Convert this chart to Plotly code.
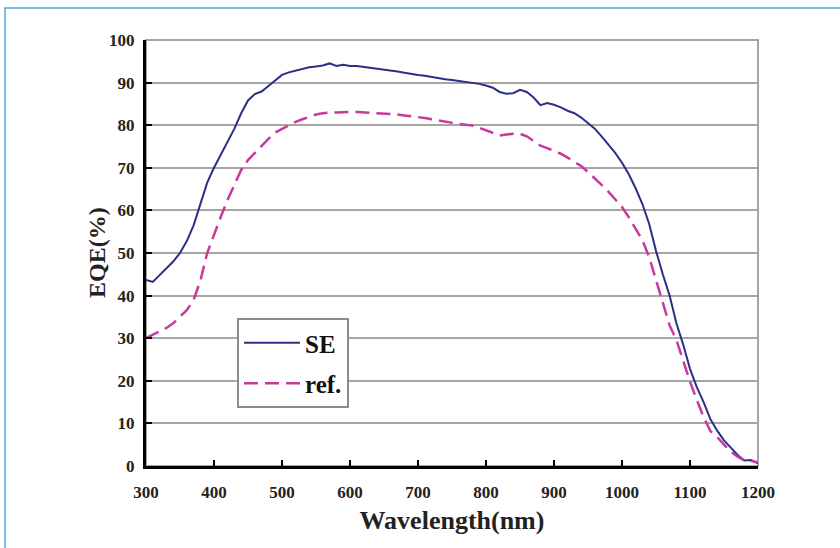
import plotly.graph_objects as go

wavelength = list(range(300, 1201, 10))

se_eqe = [43.7, 43.2, 44.8, 46.3, 48.0, 50.0, 52.8, 56.5, 61.5, 66.5,
          70.0, 73.0, 76.3, 79.2, 82.8, 85.8, 87.3, 87.9, 89.2, 90.6,
          91.8, 92.4, 92.8, 93.3, 93.6, 93.8, 94.0, 94.5, 93.9, 94.2,
          93.9, 93.9, 93.7, 93.4, 93.2, 93.0, 92.9, 92.6, 92.3, 92.0,
          91.8, 91.6, 91.3, 91.0, 90.8, 90.6, 90.4, 90.2, 90.0, 89.7,
          89.3, 88.8, 87.8, 87.4, 87.5, 88.3, 87.8, 86.5, 84.7, 85.2,
          84.8, 84.2, 83.4, 82.8, 81.8, 80.5, 79.2, 77.4, 75.5, 73.5,
          71.2, 68.5, 65.2, 61.5, 56.8, 50.5, 45.0, 40.0, 33.5, 28.5,
          22.8, 18.5, 15.0, 11.0, 8.3, 6.0, 4.3, 2.6, 1.3, 1.4, 0.6]

ref_eqe = [30.0, 30.8, 31.5, 32.4, 33.5, 35.0, 36.6, 39.0, 43.5, 50.0,
           54.5, 58.5, 62.5, 66.0, 69.5, 71.8, 73.5, 75.0, 76.8, 78.3,
           79.2, 80.0, 80.8, 81.4, 82.0, 82.5, 82.8, 83.0, 83.0, 83.1,
           83.1, 83.1, 83.0, 82.9, 82.8, 82.7, 82.7, 82.5, 82.3, 82.1,
           82.0, 81.7, 81.4, 81.1, 80.9, 80.6, 80.3, 80.1, 79.9, 79.4,
           78.8, 78.1, 77.6, 77.8, 78.0, 78.0, 77.4, 76.3, 75.2, 74.6,
           74.0, 73.3, 72.4, 71.5, 70.4, 69.0, 67.6, 66.0, 64.4, 62.5,
           60.8, 58.4, 55.6, 53.0, 49.0, 43.5, 38.0, 33.0, 29.6, 24.5,
           19.8, 15.5, 11.5, 8.2, 6.8, 5.0, 3.4, 2.2, 1.3, 1.2, 0.8]

x_ticks = list(range(300, 1201, 100))
y_ticks = list(range(0, 101, 10))

SERIF = "Liberation Serif"

fig = go.Figure()
fig.add_trace(go.Scatter(x=wavelength, y=se_eqe, mode="lines", name="SE",
                         legendgroup="a",
                         line=dict(color="#2b2f86", width=2)))
fig.add_trace(go.Scatter(x=wavelength, y=ref_eqe, mode="lines", name="ref.",
                         legendgroup="b",
                         line=dict(color="#c8399f", width=2.5, dash="14px,7px")))

L, R, T, B = 146, 82, 40, 82
pw = 840 - L - R
ph = 548 - T - B

def px_to_paper_x(px):
    return (px - L) / pw

def px_to_paper_y(py):
    return (548 - B - py) / ph

shapes = [
    dict(type="rect", xref="paper", yref="paper", x0=0, x1=1, y0=0, y1=1,
         line=dict(color="#a6a6a6", width=2), layer="below"),
    dict(type="rect", xref="paper", yref="paper",
         x0=px_to_paper_x(5), x1=px_to_paper_x(860),
         y0=px_to_paper_y(570), y1=px_to_paper_y(8),
         line=dict(color="#55a6dc", width=1.5), layer="below"),
]

annotations = [
    dict(text="EQE(%)", xref="paper", yref="paper",
         x=px_to_paper_x(97), y=px_to_paper_y(253),
         xanchor="center", yanchor="middle", textangle=-90, showarrow=False,
         font=dict(family=SERIF, size=24, color="#222", weight="bold")),
]

fig.update_layout(
    width=840, height=548,
    margin=dict(l=L, r=R, t=T, b=B),
    paper_bgcolor="white", plot_bgcolor="white",
    shapes=shapes,
    annotations=annotations,
    showlegend=True,
    legend=dict(x=px_to_paper_x(237), y=px_to_paper_y(318),
                xanchor="left", yanchor="top",
                bgcolor="white", bordercolor="#8c8c8c", borderwidth=2,
                font=dict(family=SERIF, size=25, color="#111", weight="bold"),
                tracegroupgap=5, itemwidth=56),
    xaxis=dict(range=[300, 1200], tickvals=x_ticks,
               showgrid=False, zeroline=False,
               showline=True, linecolor="black", linewidth=3,
               ticks="inside", ticklen=6, tickwidth=2, tickcolor="black",
               ticklabelstandoff=9,
               tickfont=dict(family=SERIF, size=17, color="#222", weight="bold"),
               title=dict(text="Wavelength(nm)", standoff=10,
                          font=dict(family=SERIF, size=26, color="#222", weight="bold"))),
    yaxis=dict(range=[0, 100], tickvals=y_ticks,
               showgrid=True, gridcolor="#a6a6a6", gridwidth=2,
               zeroline=False,
               showline=True, linecolor="black", linewidth=3,
               ticks="inside", ticklen=6, tickwidth=2, tickcolor="black",
               ticklabelstandoff=5,
               tickfont=dict(family=SERIF, size=17, color="#222", weight="bold")),
)

fig.write_html("out.html",
               config={"displayModeBar": False},
               post_script="document.body.style.margin='0';document.body.style.padding='0';")
